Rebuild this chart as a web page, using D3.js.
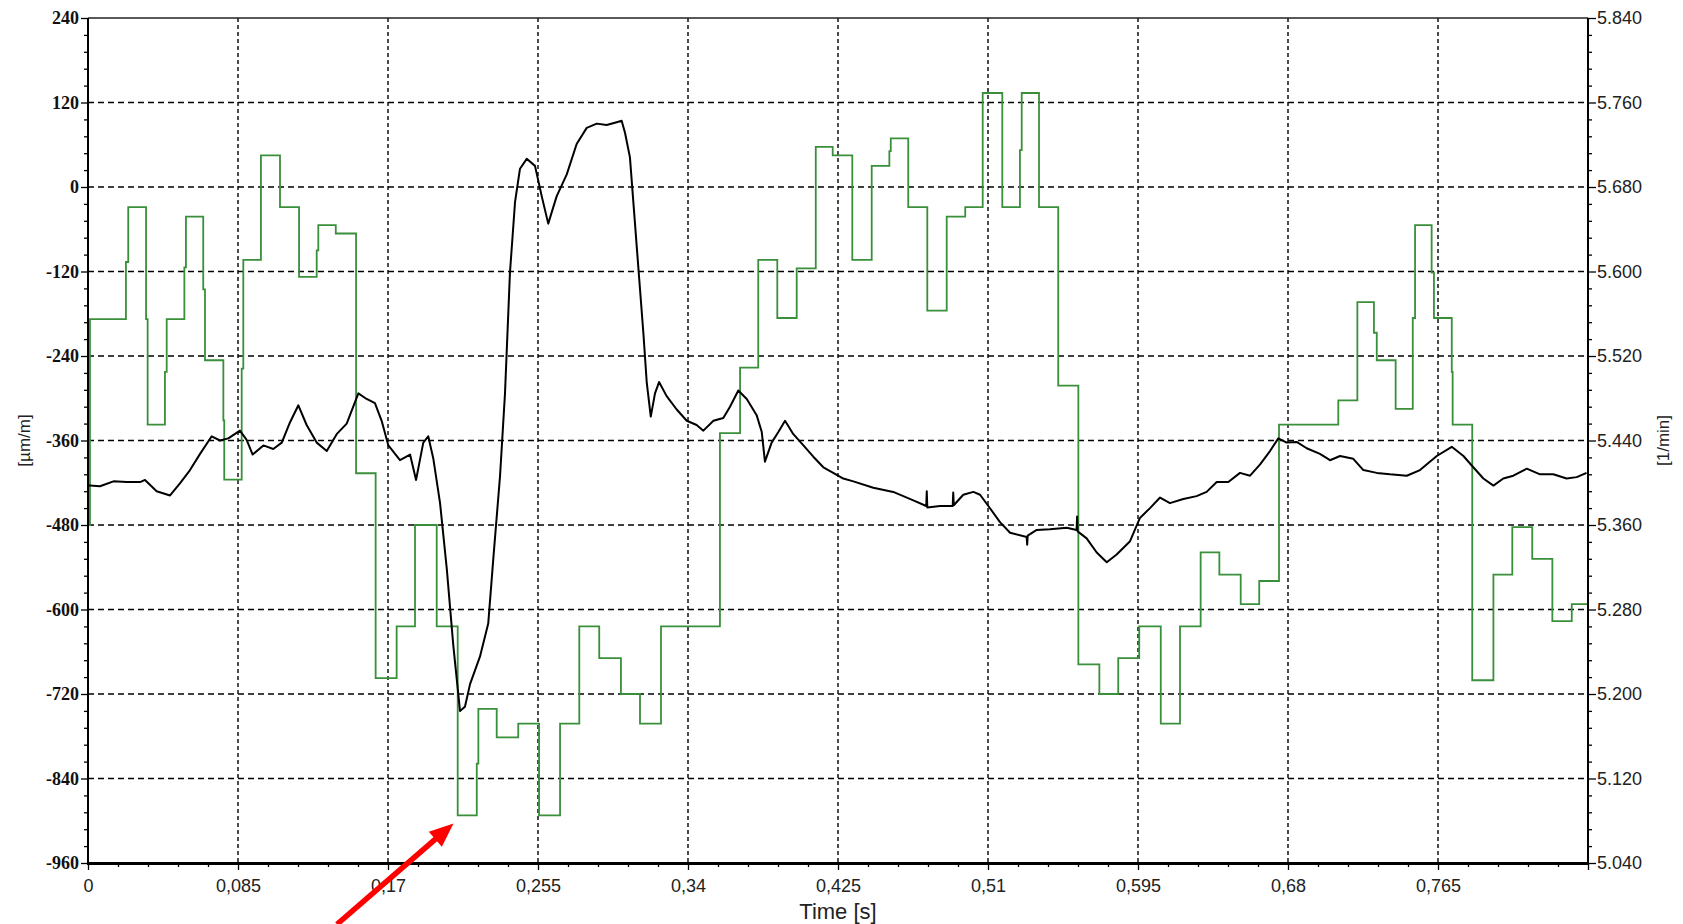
<!DOCTYPE html>
<html>
<head>
<meta charset="utf-8">
<script src="https://cdn.jsdelivr.net/npm/d3@7"></script>
<style>
  html, body { margin: 0; padding: 0; background: #fff; }
  svg { display: block; }
</style>
</head>
<body>
<svg id="chart" width="1683" height="924"></svg>
<script>
// ---------------- data ----------------
const xTicks = [0, 0.085, 0.17, 0.255, 0.34, 0.425, 0.51, 0.595, 0.68, 0.765, 0.85];
const xTickLabels = ["0", "0,085", "0,17", "0,255", "0,34", "0,425", "0,51", "0,595", "0,68", "0,765", ""];
const leftTicks = [-960, -840, -720, -600, -480, -360, -240, -120, 0, 120, 240];
const leftTickLabels = ["-960", "-840", "-720", "-600", "-480", "-360", "-240", "-120", "0", "120", "240"];
const rightTicks = [5.04, 5.12, 5.20, 5.28, 5.36, 5.44, 5.52, 5.60, 5.68, 5.76, 5.84];
const rightTickLabels = ["5.040", "5.120", "5.200", "5.280", "5.360", "5.440", "5.520", "5.600", "5.680", "5.760", "5.840"];

// black trace: strain [µm/m] (left axis)
const strainTime = [0, 0.0011, 0.0068, 0.0144, 0.0219, 0.0295, 0.0323, 0.0389, 0.0465, 0.0521, 0.0578, 0.0635, 0.0701, 0.0748, 0.0795, 0.0861, 0.0899, 0.0933, 0.0994, 0.105, 0.1098, 0.1145, 0.1192, 0.1239, 0.1296, 0.1353, 0.1409, 0.1466, 0.1532, 0.1579, 0.1626, 0.1664, 0.1702, 0.1768, 0.1825, 0.1859, 0.19, 0.1928, 0.1957, 0.1995, 0.2033, 0.207, 0.2108, 0.2136, 0.2165, 0.2221, 0.2268, 0.2297, 0.2335, 0.2363, 0.2391, 0.242, 0.2448, 0.2486, 0.2533, 0.2571, 0.2608, 0.2656, 0.2713, 0.2769, 0.2826, 0.2883, 0.2939, 0.2996, 0.3024, 0.3043, 0.3071, 0.3109, 0.3147, 0.3166, 0.3189, 0.3213, 0.3236, 0.3279, 0.3336, 0.3393, 0.3449, 0.3487, 0.3544, 0.36, 0.3638, 0.3685, 0.3733, 0.3789, 0.3818, 0.3836, 0.3874, 0.3912, 0.395, 0.3997, 0.4054, 0.411, 0.4167, 0.4223, 0.428, 0.4337, 0.445, 0.4563, 0.4677, 0.4750, 0.4753, 0.4756, 0.4828, 0.4900, 0.4903, 0.4906, 0.496, 0.5017, 0.5055, 0.5102, 0.5168, 0.5225, 0.5319, 0.5322, 0.5325, 0.5376, 0.5451, 0.5546, 0.5602, 0.5605, 0.5608, 0.5659, 0.5716, 0.5773, 0.5829, 0.5905, 0.5961, 0.6018, 0.6075, 0.6131, 0.6207, 0.6282, 0.6339, 0.6396, 0.6462, 0.6528, 0.6585, 0.6642, 0.6698, 0.6745, 0.6793, 0.6849, 0.6906, 0.6981, 0.7038, 0.7095, 0.717, 0.7227, 0.7303, 0.7378, 0.7473, 0.7548, 0.7643, 0.7728, 0.7794, 0.785, 0.7907, 0.7964, 0.802, 0.8077, 0.8153, 0.8228, 0.8303, 0.8379, 0.8436, 0.8492];
const strainValues = [-424, -424, -425, -418, -419, -419, -416, -432, -438, -421, -402, -379, -354, -360, -357, -346, -359, -380, -367, -372, -363, -334, -310, -338, -363, -375, -351, -336, -293, -301, -307, -332, -367, -388, -380, -416, -363, -354, -386, -449, -542, -651, -744, -738, -706, -667, -620, -527, -410, -293, -122, -21, 26, 40, 30, -13, -52, -13, 18, 61, 84, 90, 88, 92, 94, 77, 42, -83, -207, -277, -326, -293, -277, -297, -316, -332, -338, -346, -332, -328, -312, -289, -301, -324, -348, -390, -363, -348, -332, -351, -367, -383, -398, -406, -414, -418, -427, -433, -445, -453, -432, -455, -453, -453, -434, -452, -437, -433, -437, -453, -476, -491, -497, -508, -495, -487, -486, -484, -487, -468, -489, -499, -519, -533, -522, -503, -470, -456, -441, -449, -443, -439, -433, -419, -419, -406, -410, -394, -375, -357, -363, -362, -371, -379, -388, -382, -386, -402, -406, -408, -410, -402, -382, -369, -382, -398, -414, -424, -414, -410, -400, -408, -408, -414, -412, -406];

// green trace: speed [1/min] (right axis), stepwise
const speedTime = [0, 0.0011, 0.0215, 0.0228, 0.0329, 0.0338, 0.0436, 0.0446, 0.0546, 0.0555, 0.0653, 0.0663, 0.0767, 0.0772, 0.0871, 0.0880, 0.0980, 0.1088, 0.1196, 0.1296, 0.1305, 0.1404, 0.1519, 0.1630, 0.1749, 0.1853, 0.1976, 0.2095, 0.2203, 0.2212, 0.2316, 0.2438, 0.2556, 0.2675, 0.2784, 0.2897, 0.3020, 0.3128, 0.3247, 0.3581, 0.3695, 0.3798, 0.3906, 0.4016, 0.4124, 0.4220, 0.4331, 0.4441, 0.4541, 0.4549, 0.4648, 0.4756, 0.4866, 0.4971, 0.5070, 0.5181, 0.5281, 0.5291, 0.5389, 0.5498, 0.5612, 0.5731, 0.5838, 0.5957, 0.6079, 0.6188, 0.6305, 0.6411, 0.6532, 0.6637, 0.6749, 0.7085, 0.7193, 0.7287, 0.7303, 0.7410, 0.7507, 0.7520, 0.7614, 0.7627, 0.7728, 0.7733, 0.7844, 0.7964, 0.8071, 0.8184, 0.8298, 0.8408, 0.85];
const speedValues = [5.360, 5.555, 5.609, 5.661, 5.555, 5.455, 5.505, 5.555, 5.604, 5.652, 5.583, 5.516, 5.459, 5.403, 5.508, 5.611, 5.710, 5.661, 5.595, 5.620, 5.644, 5.636, 5.409, 5.215, 5.264, 5.360, 5.264, 5.085, 5.134, 5.186, 5.159, 5.172, 5.085, 5.172, 5.264, 5.234, 5.200, 5.172, 5.264, 5.447, 5.509, 5.611, 5.556, 5.603, 5.718, 5.710, 5.611, 5.700, 5.714, 5.726, 5.661, 5.563, 5.652, 5.661, 5.769, 5.661, 5.715, 5.769, 5.661, 5.492, 5.228, 5.200, 5.234, 5.264, 5.172, 5.264, 5.334, 5.313, 5.285, 5.307, 5.455, 5.478, 5.571, 5.542, 5.516, 5.470, 5.556, 5.644, 5.599, 5.556, 5.505, 5.455, 5.213, 5.313, 5.358, 5.328, 5.269, 5.285, 5.285];

// annotation arrow (data coords: time, µm/m)
const arrowTail = [0.1411, -1047];
const arrowTip = [0.2071, -904];

// ---------------- drawing ----------------
const svg = d3.select("#chart");
const L = 88, R = 1588, T = 18, B = 863;

const x = d3.scaleLinear().domain([0, 0.85]).range([L, R]);
const yL = d3.scaleLinear().domain([-960, 240]).range([B, T]);
const yR = d3.scaleLinear().domain([5.04, 5.84]).range([B, T]);

svg.append("rect").attr("width", 1683).attr("height", 924).attr("fill", "#fff");

// grid
const grid = svg.append("g");
grid.selectAll("line.h").data(leftTicks.filter(d => d > -960 && d < 240)).enter()
  .append("line").attr("x1", L).attr("x2", R)
  .attr("y1", d => yL(d)).attr("y2", d => yL(d))
  .attr("stroke", "#000").attr("stroke-width", 1.4).attr("stroke-dasharray", "6,4");
grid.selectAll("line.v").data(xTicks.filter(d => d > 0 && d < 0.85)).enter()
  .append("line").attr("y1", T).attr("y2", B)
  .attr("x1", d => x(d)).attr("x2", d => x(d))
  .attr("stroke", "#000").attr("stroke-width", 1.4).attr("stroke-dasharray", "4,3");

// green step line
const speedData = speedTime.map((t, i) => [t, speedValues[i]]);
svg.append("path").datum(speedData)
  .attr("fill", "none").attr("stroke", "#3a8f3a").attr("stroke-width", 1.8)
  .attr("d", d3.line().x(d => x(d[0])).y(d => yR(d[1])).curve(d3.curveStepAfter));

// black line
const strainData = strainTime.map((t, i) => [t, strainValues[i]]);
svg.append("path").datum(strainData)
  .attr("fill", "none").attr("stroke", "#000").attr("stroke-width", 2)
  .attr("stroke-linejoin", "round")
  .attr("d", d3.line().x(d => x(d[0])).y(d => yL(d[1])));

// axes
function minorBetween(ticks, n) {
  const out = [];
  for (let i = 0; i < ticks.length - 1; i++) {
    const a = ticks[i], b = ticks[i + 1];
    for (let k = 1; k < n; k++) out.push(a + (b - a) * k / n);
  }
  return out;
}

const gL = svg.append("g").attr("transform", `translate(${L},0)`)
  .call(d3.axisLeft(yL).tickValues(leftTicks).tickSize(7).tickPadding(2)
    .tickFormat((d, i) => leftTickLabels[i]));
svg.append("g").attr("transform", `translate(${L},0)`)
  .call(d3.axisLeft(yL).tickValues(minorBetween(leftTicks, 5)).tickSize(4).tickFormat(""));
gL.selectAll("text").attr("font-family", "'Liberation Serif', 'Times New Roman', serif")
  .attr("font-weight", "bold").attr("font-size", 18).attr("fill", "#111");

const gR = svg.append("g").attr("transform", `translate(${R},0)`)
  .call(d3.axisRight(yR).tickValues(rightTicks).tickSize(8).tickPadding(1)
    .tickFormat((d, i) => rightTickLabels[i]));
svg.append("g").attr("transform", `translate(${R},0)`)
  .call(d3.axisRight(yR).tickValues(minorBetween(rightTicks, 5)).tickSize(4).tickFormat(""));
gR.selectAll("text").attr("font-family", "'Liberation Sans', Arial, sans-serif")
  .attr("font-size", 18).attr("fill", "#222");

const gB = svg.append("g").attr("transform", `translate(0,${B})`)
  .call(d3.axisBottom(x).tickValues(xTicks).tickSize(7).tickPadding(9)
    .tickFormat((d, i) => xTickLabels[i]));
svg.append("g").attr("transform", `translate(0,${B})`)
  .call(d3.axisBottom(x).tickValues(minorBetween(xTicks, 5)).tickSize(4).tickFormat(""));
gB.selectAll("text").attr("font-family", "'Liberation Sans', Arial, sans-serif")
  .attr("font-size", 18).attr("fill", "#222");

svg.selectAll(".domain").remove();
svg.selectAll(".tick line").attr("stroke", "#000").attr("stroke-width", 1.3);

// frame
svg.append("line").attr("x1", L).attr("x2", R).attr("y1", T).attr("y2", T)
  .attr("stroke", "#222").attr("stroke-width", 1.5);
svg.append("line").attr("x1", L).attr("x2", L).attr("y1", T).attr("y2", B)
  .attr("stroke", "#000").attr("stroke-width", 2);
svg.append("line").attr("x1", R).attr("x2", R).attr("y1", T).attr("y2", B)
  .attr("stroke", "#000").attr("stroke-width", 2);
svg.append("line").attr("x1", L - 1).attr("x2", R + 1).attr("y1", B + 0.5).attr("y2", B + 0.5)
  .attr("stroke", "#000").attr("stroke-width", 3);

// axis titles
svg.append("text").attr("x", (L + R) / 2).attr("y", 919)
  .attr("text-anchor", "middle")
  .attr("font-family", "'Liberation Sans', Arial, sans-serif").attr("font-size", 22)
  .attr("fill", "#222").text("Time [s]");
svg.append("text").attr("transform", `translate(30,${(T + B) / 2}) rotate(-90)`)
  .attr("text-anchor", "middle")
  .attr("font-family", "'Liberation Sans', Arial, sans-serif").attr("font-size", 17)
  .attr("fill", "#222").text("[µm/m]");
svg.append("text").attr("transform", `translate(1669,${(T + B) / 2}) rotate(-90)`)
  .attr("text-anchor", "middle")
  .attr("font-family", "'Liberation Sans', Arial, sans-serif").attr("font-size", 17)
  .attr("fill", "#222").text("[1/min]");

// red arrow annotation
const tx = x(arrowTail[0]), ty = yL(arrowTail[1]);
const hx = x(arrowTip[0]), hy = yL(arrowTip[1]);
const len = Math.hypot(hx - tx, hy - ty);
const ux = (hx - tx) / len, uy = (hy - ty) / len;
const px = -uy, py = ux;
const headLen = 24, headHalf = 10;
const bx = hx - ux * headLen, by = hy - uy * headLen;
svg.append("line").attr("x1", tx).attr("y1", ty).attr("x2", bx + ux * 2).attr("y2", by + uy * 2)
  .attr("stroke", "#ff0000").attr("stroke-width", 5.5);
svg.append("path")
  .attr("d", `M${hx},${hy} L${bx + px * headHalf},${by + py * headHalf} L${bx - px * headHalf},${by - py * headHalf} Z`)
  .attr("fill", "#ff0000");
</script>
</body>
</html>
